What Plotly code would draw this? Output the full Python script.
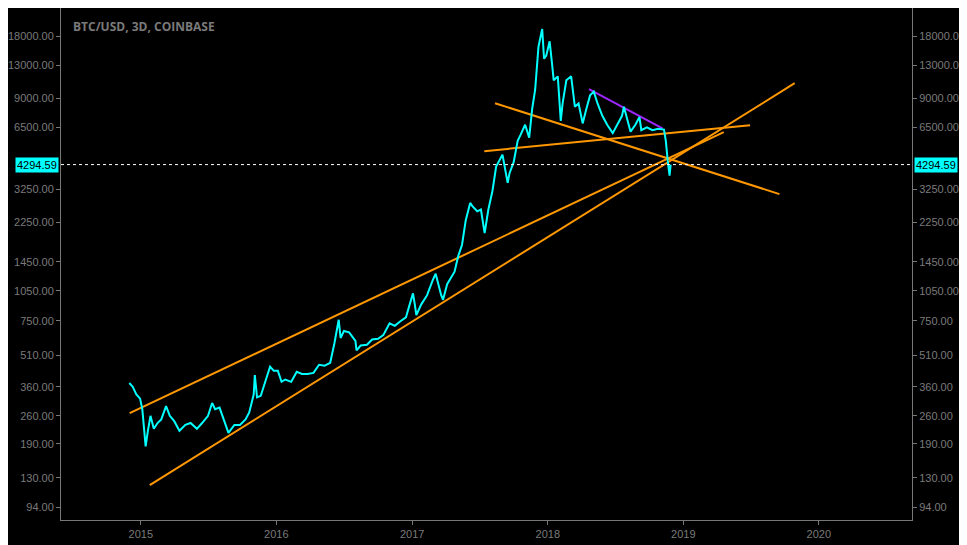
import plotly.graph_objects as go
import math

dates = ["2014-12-01","2014-12-10","2014-12-20","2014-12-30","2015-01-05","2015-01-14","2015-01-20","2015-01-27","2015-02-05","2015-02-15","2015-02-25","2015-03-10","2015-03-20","2015-04-01","2015-04-15","2015-05-01","2015-05-15","2015-06-01","2015-06-15","2015-07-01","2015-07-12","2015-07-20","2015-08-01","2015-08-18","2015-08-25","2015-09-10","2015-09-25","2015-10-10","2015-10-20","2015-11-01","2015-11-04","2015-11-10","2015-11-20","2015-12-01","2015-12-15","2015-12-25","2016-01-05","2016-01-15","2016-01-25","2016-02-10","2016-02-25","2016-03-10","2016-03-25","2016-04-10","2016-04-25","2016-05-10","2016-05-25","2016-06-05","2016-06-12","2016-06-17","2016-06-22","2016-07-01","2016-07-15","2016-08-01","2016-08-04","2016-08-15","2016-09-01","2016-09-15","2016-10-01","2016-10-15","2016-11-01","2016-11-15","2016-12-01","2016-12-15","2016-12-25","2017-01-03","2017-01-08","2017-01-12","2017-01-25","2017-02-10","2017-02-25","2017-03-05","2017-03-20","2017-03-25","2017-04-05","2017-04-25","2017-05-05","2017-05-15","2017-05-25","2017-06-06","2017-06-12","2017-06-25","2017-07-05","2017-07-15","2017-07-25","2017-08-05","2017-08-15","2017-09-01","2017-09-15","2017-09-20","2017-10-01","2017-10-12","2017-10-20","2017-11-01","2017-11-12","2017-11-20","2017-11-28","2017-12-07","2017-12-17","2017-12-22","2017-12-28","2018-01-06","2018-01-12","2018-01-17","2018-01-28","2018-02-05","2018-02-10","2018-02-20","2018-03-05","2018-03-15","2018-03-25","2018-04-05","2018-04-15","2018-04-25","2018-05-05","2018-05-15","2018-05-28","2018-06-10","2018-06-25","2018-07-05","2018-07-20","2018-07-25","2018-08-05","2018-08-12","2018-08-25","2018-09-05","2018-09-10","2018-09-25","2018-10-10","2018-10-25","2018-11-10","2018-11-15","2018-11-20","2018-11-25","2018-11-28"]
prices = [375,360,330,315,280,185,220,260,225,240,250,290,260,245,220,235,240,225,240,260,300,280,285,230,215,235,235,250,270,330,410,320,325,375,450,430,430,380,390,380,425,415,415,420,460,455,470,580,680,760,620,670,660,600,540,570,575,610,615,640,730,710,750,780,900,1020,900,800,900,1000,1180,1270,1000,950,1130,1300,1550,1750,2300,2800,2700,2550,2600,2000,2600,3200,4200,4800,3500,3900,4400,5600,6000,6700,5800,8000,9900,16000,19500,14000,14500,17000,13500,11000,11500,7000,8500,11000,11500,8200,8500,6800,8000,9300,9700,8500,7400,6700,6100,6600,7400,8200,7000,6200,6700,7300,6300,6500,6300,6400,6350,5600,4500,3800,4294.59]

orange_lines = [
    (["2014-12-02","2019-04-20"], [268, 6170]),
    (["2015-01-25","2019-10-28"], [120, 10650]),
    (["2017-08-12","2019-09-17"], [8520, 3090]),
    (["2017-07-14","2019-06-30"], [4990, 6670]),
]
purple_line = (["2018-04-22","2018-11-06"], [9960, 6440])
last_price = 4294.59
tick_vals = [26000,18000,13000,9000,6500,3250,2250,1450,1050,750,510,360,260,190,130,94]
tick_text = [f"{v:.2f}" for v in tick_vals]

yr = [math.log10(81.3), 4.392]
xr = ["2014-05-31", "2020-09-08"]

fig = go.Figure()
for xs, ys in orange_lines:
    fig.add_trace(go.Scatter(x=xs, y=ys, mode="lines", line=dict(color="#ff9800", width=2), hoverinfo="skip"))
fig.add_trace(go.Scatter(x=purple_line[0], y=purple_line[1], mode="lines", line=dict(color="#9c27ff", width=2)))
fig.add_trace(go.Scatter(x=dates, y=prices, mode="lines", line=dict(color="#00ffff", width=2)))
fig.add_trace(go.Scatter(x=xr, y=[last_price, last_price], mode="lines", line=dict(color="white", width=1, dash="dot")))
fig.add_trace(go.Scatter(x=[dates[-1]], y=[last_price], yaxis="y2", mode="markers", marker=dict(opacity=0)))

axis_font = dict(color="#7a7a7a", size=11, family="Liberation Sans")
fig.update_layout(
    width=959, height=537, paper_bgcolor="black", plot_bgcolor="black",
    margin=dict(l=47, r=55, t=0, b=25), showlegend=False,
    xaxis=dict(range=xr, type="date", showgrid=False, zeroline=False, showline=True, linecolor="#777",
               ticks="outside", tickcolor="#777", ticklen=4, tickfont=axis_font, dtick="M12", tickformat="%Y"),
    yaxis=dict(type="log", range=yr, tickvals=tick_vals, ticktext=tick_text, showgrid=False, showline=True,
               linecolor="#777", ticks="outside", tickcolor="#777", ticklen=4, tickfont=axis_font, zeroline=False),
    yaxis2=dict(type="log", range=yr, tickvals=tick_vals, ticktext=tick_text, overlaying="y", side="right",
                showgrid=False, showline=True, linecolor="#777", ticks="outside", tickcolor="#777", ticklen=4,
                tickfont=axis_font, zeroline=False),
)
for xa, xanch in [(0, "right"), (1, "left")]:
    fig.add_annotation(x=xa, xref="paper", y=math.log10(last_price), yref="y", text=f"{last_price:.2f}",
                       showarrow=False, xanchor=xanch, bgcolor="#00ffff", font=dict(color="black", size=11, family="Liberation Sans"),
                       borderpad=1, xshift=-2 if xa == 0 else 2)
fig.add_annotation(x=0.012, xref="paper", y=0.985, yref="paper", text="<b>BTC/USD, 3D, COINBASE</b>", showarrow=False,
                   xanchor="left", font=dict(color="#7a7a7a", size=12, family="Open Sans"))
fig.write_html("out.html")
